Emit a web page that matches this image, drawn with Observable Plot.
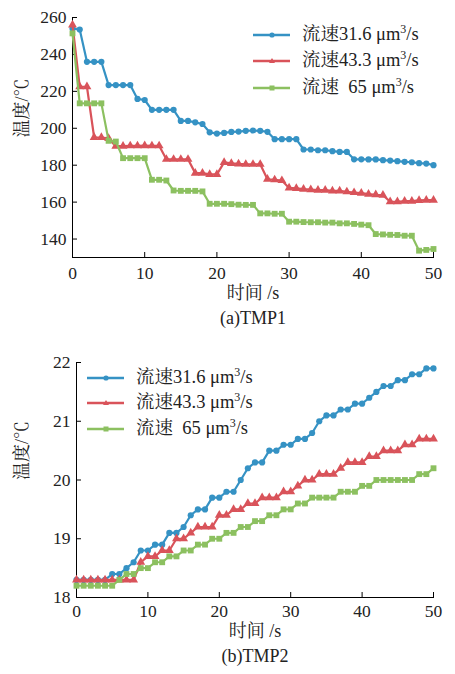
<!DOCTYPE html>
<html><head><meta charset="utf-8">
<script src="https://cdn.jsdelivr.net/npm/d3@7"></script>
<script src="https://cdn.jsdelivr.net/npm/@observablehq/plot@0.6"></script>
<style>
body{margin:0;background:#fff;}
#wrap{position:relative;width:455px;height:674px;overflow:hidden;}
#wrap svg{display:block;}
.lrow{position:absolute;height:20px;line-height:20px;white-space:pre;display:flex;align-items:center;
  font-family:"Liberation Serif","Noto Serif CJK SC","Noto Sans CJK SC",serif;font-size:18.5px;color:#222;}
.lrow svg{margin-right:12px;}
.sup{font-size:12px;position:relative;top:-7px;}
</style></head>
<body><div id="wrap"></div>
<script>
const FONT = '"Liberation Serif","Noto Serif CJK SC","Noto Sans CJK SC",serif';
const BLUE = "#3592c4", RED = "#d9535a", GREEN = "#8cc060";

const time = [0,1,2,3,4,5,6,7,8,9,10,11,12,13,14,15,16,17,18,19,20,21,22,23,24,25,26,27,28,29,30,31,32,33,34,35,36,37,38,39,40,41,42,43,44,45,46,47,48,49,50];
const seriesNames = ["流速31.6 μm³/s", "流速43.3 μm³/s", "流速  65 μm³/s"];
const xTicks = [0,10,20,30,40,50];

// (a) TMP1
const tmp1Ticks = [140,160,180,200,220,240,260];
const tmp1_316 = [254,253.5,236,236,236,223.4,223.4,223.4,223.4,215.9,215.3,210,210,210,210,204,204,203.2,202.3,197.8,197.1,197.5,198,198.2,198.6,198.8,198.6,198.1,194.1,194.1,194.1,194.1,188.5,188.5,188.1,188.1,187.6,187.2,187.2,183.2,183.2,183.1,183.1,182.7,182.5,182.2,181.8,181.6,181.1,180.9,180];
const tmp1_433 = [256,222.5,222.5,195,195,194.5,190.3,190.3,190.5,190.5,190.6,190.5,190.5,183.2,183.2,183.2,183.2,175.7,175.7,175,175,181.5,181,180.7,180.5,180.5,180.5,172.4,172.1,171.7,167.7,167.4,167,166.8,166.5,166.5,166.1,166.1,165.6,165.2,164.9,164.3,164,163.8,160.2,160.2,160.5,160.5,160.9,161.1,161.1];
const tmp1_65 = [251.4,213.5,213.5,213.5,213.5,193.2,192.8,183.8,183.8,183.8,183.8,172.1,172.1,171.7,166.3,166.1,166.1,166.1,165.8,159.1,159.1,159.1,158.9,158.6,158.5,158.5,153.9,153.9,153.7,153.7,149.4,149.4,149.2,149.1,149.1,148.9,148.9,148.5,148.5,148.2,147.8,147.5,142.7,142.5,142.3,142.2,141.8,141.8,133.7,134.1,134.6];

// (b) TMP2
const tmp2Ticks = [18,19,20,21,22];
const tmp2_316 = [18.3,18.3,18.3,18.3,18.3,18.4,18.4,18.5,18.6,18.8,18.8,18.9,18.9,19.1,19.1,19.2,19.4,19.5,19.5,19.7,19.7,19.8,19.8,20.0,20.2,20.3,20.3,20.5,20.5,20.6,20.6,20.7,20.7,20.8,21.0,21.1,21.1,21.2,21.2,21.3,21.3,21.4,21.5,21.6,21.6,21.7,21.7,21.8,21.8,21.9,21.9];
const tmp2_433 = [18.3,18.3,18.3,18.3,18.3,18.3,18.3,18.3,18.3,18.6,18.7,18.7,18.8,18.8,19.0,19.0,19.1,19.2,19.2,19.2,19.4,19.4,19.5,19.5,19.6,19.6,19.7,19.7,19.7,19.8,19.8,19.9,20.0,20.0,20.1,20.1,20.1,20.2,20.3,20.3,20.3,20.4,20.4,20.5,20.5,20.5,20.6,20.6,20.7,20.7,20.7];
const tmp2_65 = [18.2,18.2,18.2,18.2,18.2,18.2,18.3,18.4,18.4,18.5,18.5,18.6,18.6,18.7,18.7,18.8,18.8,18.9,18.9,19.0,19.0,19.1,19.1,19.2,19.2,19.3,19.3,19.4,19.4,19.5,19.5,19.6,19.6,19.7,19.7,19.7,19.7,19.8,19.8,19.8,19.9,19.9,20.0,20.0,20.0,20.0,20.0,20.0,20.1,20.1,20.2];

const styles = [
  {color: BLUE, symbol: "circle", r: 3.1},
  {color: RED, symbol: "triangle", r: 3.3},
  {color: GREEN, symbol: "square", r: 3.3}
];

function makeChart({values, yDomain, yTicks, height, marginTop, marginBottom, marginLeft, marginRight, xLabelDy, capDy, caption, yLabelDx, xTickPad}) {
  const marks = [
    Plot.frame({anchor: "left", stroke: "#000"}),
    Plot.frame({anchor: "bottom", stroke: "#000"}),
    Plot.axisX(xTicks, {tickSize: -5, tickPadding: xTickPad, label: null, fontSize: 17.5, stroke: "#000", fill: "#222", tickFormat: d3.format("d")}),
    Plot.axisY(yTicks, {tickSize: -5, tickPadding: 11, label: null, fontSize: 17.5, stroke: "#000", fill: "#222", tickFormat: d3.format("d")})
  ];
  values.forEach((vals, i) => {
    const rows = time.map((t, j) => ({t, v: vals[j]}));
    const s = styles[i];
    marks.push(Plot.line(rows, {x: "t", y: "v", stroke: s.color, strokeWidth: 2.2}));
    marks.push(Plot.dot(rows, {x: "t", y: "v", symbol: s.symbol, fill: s.color, r: s.r, stroke: "none"}));
  });
  marks.push(Plot.text(["时间 /s"], {text: d => d, frameAnchor: "bottom", dy: xLabelDy, fontSize: 18, fill: "#222"}));
  marks.push(Plot.text([caption], {text: d => d, frameAnchor: "bottom", dy: capDy, fontSize: 18, fill: "#222"}));
  marks.push(Plot.text(["温度/℃"], {text: d => d, frameAnchor: "left", dx: yLabelDx, rotate: -90, fontSize: 18, fill: "#222"}));
  return Plot.plot({
    width: 455, height, marginTop, marginBottom, marginLeft, marginRight,
    style: {fontFamily: FONT, fontSize: "17px", color: "#222", background: "#fff"},
    x: {domain: [0, 50]},
    y: {domain: yDomain},
    marks
  });
}

const wrap = document.getElementById("wrap");
wrap.appendChild(makeChart({
  values: [tmp1_316, tmp1_433, tmp1_65], yDomain: [130, 260], yTicks: tmp1Ticks,
  height: 340, marginTop: 17, marginBottom: 83, marginLeft: 72, marginRight: 22,
  xLabelDy: 41, capDy: 66, caption: "(a)TMP1", yLabelDx: -50, xTickPad: 14
}));
wrap.appendChild(makeChart({
  values: [tmp2_316, tmp2_433, tmp2_65], yDomain: [18, 22], yTicks: tmp2Ticks,
  height: 334, marginTop: 22, marginBottom: 77, marginLeft: 76, marginRight: 22,
  xLabelDy: 39, capDy: 64, caption: "(b)TMP2", yLabelDx: -54, xTickPad: 12
}));

function swatch(i) {
  const s = styles[i];
  let m;
  if (s.symbol === "circle") m = `<circle cx="19" cy="10" r="2.6" fill="${s.color}"/>`;
  else if (s.symbol === "triangle") m = `<path d="M19,7 L22,12 L16,12 Z" fill="${s.color}"/>`;
  else m = `<rect x="16.5" y="7.5" width="5" height="5" fill="${s.color}"/>`;
  return `<svg width="37" height="20"><line x1="0" x2="37" y1="10" y2="10" stroke="${s.color}" stroke-width="2.4"/>${m}</svg>`;
}
function legend(x, ys) {
  seriesNames.forEach((name, i) => {
    const d = document.createElement("div");
    d.className = "lrow";
    d.style.left = x + "px";
    d.style.top = (ys[i] - 10) + "px";
    const [pre] = name.split("³");
    d.innerHTML = swatch(i) + `<span>${pre}<span class="sup">3</span>/s</span>`;
    wrap.appendChild(d);
  });
}
legend(253, [35, 61, 88]);
legend(87, [378, 403, 429]);
</script></body></html>
